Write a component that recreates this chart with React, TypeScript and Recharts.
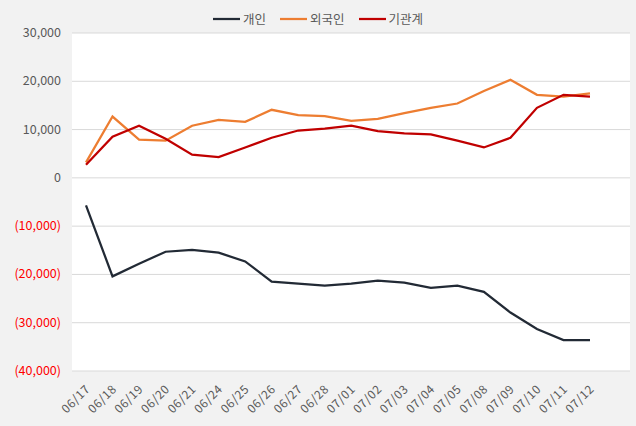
import React from 'react';
import {
  LineChart,
  Line,
  XAxis,
  YAxis,
  CartesianGrid
} from 'recharts';

const dates = [
  '06/17', '06/18', '06/19', '06/20', '06/21', '06/24', '06/25', '06/26', '06/27', '06/28',
  '07/01', '07/02', '07/03', '07/04', '07/05', '07/08', '07/09', '07/10', '07/11', '07/12',
];

const individual = [
  -5700, -20400, -17800, -15300, -14900, -15500, -17300, -21500, -21900, -22300,
  -21900, -21300, -21700, -22800, -22300, -23600, -27900, -31300, -33600, -33600,
];

const foreign = [
  3200, 12700, 7900, 7700, 10800, 12000, 11600, 14100, 13000, 12800,
  11800, 12200, 13400, 14500, 15400, 18000, 20300, 17200, 16800, 17500,
];

const institution = [
  2700, 8500, 10800, 8100, 4800, 4300, 6300, 8300, 9800, 10200,
  10800, 9700, 9200, 9000, 7700, 6300, 8300, 14500, 17200, 16800,
];

const yTicks = [30000, 20000, 10000, 0, -10000, -20000, -30000, -40000];

const series = [
  { key: 'individual', name: '개인', color: '#222a35' },
  { key: 'foreign', name: '외국인', color: '#ed7d31' },
  { key: 'institution', name: '기관계', color: '#c00000' },
];

const data = dates.map((date, i) => ({
  date,
  individual: individual[i],
  foreign: foreign[i],
  institution: institution[i],
}));

const FONT = '"Noto Sans CJK KR", "Noto Sans", sans-serif';

const fmt = (v: number) => {
  const s = Math.abs(v).toLocaleString('en-US');
  return v < 0 ? `(${s})` : s;
};

const YTick = (props: any) => {
  const { x, y, payload } = props;
  const v = payload.value as number;
  return (
    <text
      x={x - 3}
      y={y}
      dy={4}
      textAnchor="end"
      fontSize={12.5}
      fontFamily={FONT}
      fill={v < 0 ? '#ff0000' : '#595959'}
    >
      {fmt(v)}
    </text>
  );
};

const XTick = (props: any) => {
  const { x, y, payload } = props;
  return (
    <g transform={`translate(${x + 2},${y + 8})`}>
      <text
        x={0}
        y={0}
        dy={4}
        textAnchor="end"
        fontSize={12}
        letterSpacing={0.6}
        fontFamily={FONT}
        fill="#595959"
        transform="rotate(-45)"
      >
        {payload.value}
      </text>
    </g>
  );
};

// legend drawn as an overlay so it doesn't push the plot area down
const LegendBox = () => (
  <div
    style={{
      position: 'absolute', top: 9, left: 0, width: 636,
      display: 'flex', justifyContent: 'center', gap: 14,
      fontFamily: FONT, fontSize: 12.5, color: '#595959', lineHeight: '20px',
    }}
  >
    {series.map((s) => (
      <div key={s.key} style={{ display: 'flex', alignItems: 'center' }}>
        <svg width={27} height={4} style={{ marginRight: 3 }}>
          <line x1={0} y1={2} x2={27} y2={2} stroke={s.color} strokeWidth={2.25} />
        </svg>
        <span>{s.name}</span>
      </div>
    ))}
  </div>
);

export default function App() {
  return (
    <div style={{ position: 'absolute', left: 0, top: 0, width: 636, height: 426, background: '#f2f2f2' }}>
      <LineChart
        width={636}
        height={426}
        data={data}
        margin={{ top: 33, right: 6, bottom: 0, left: 0 }}
      >
        <CartesianGrid vertical={false} stroke="#d9d9d9" fill="#ffffff" />
        <XAxis
          dataKey="date"
          interval={0}
          axisLine={false}
          tickLine={false}
          padding={{ left: 14, right: 40 }}
          height={55}
          tick={<XTick />}
        />
        <YAxis
          domain={[-40000, 30000]}
          ticks={yTicks}
          interval={0}
          axisLine={false}
          tickLine={false}
          width={72}
          tick={<YTick />}
        />
        {series.map((s) => (
          <Line
            key={s.key}
            type="linear"
            dataKey={s.key}
            name={s.name}
            stroke={s.color}
            strokeWidth={2.25}
            dot={false}
            activeDot={false}
            isAnimationActive={false}
          />
        ))}
      </LineChart>
      <LegendBox />
    </div>
  );
}
